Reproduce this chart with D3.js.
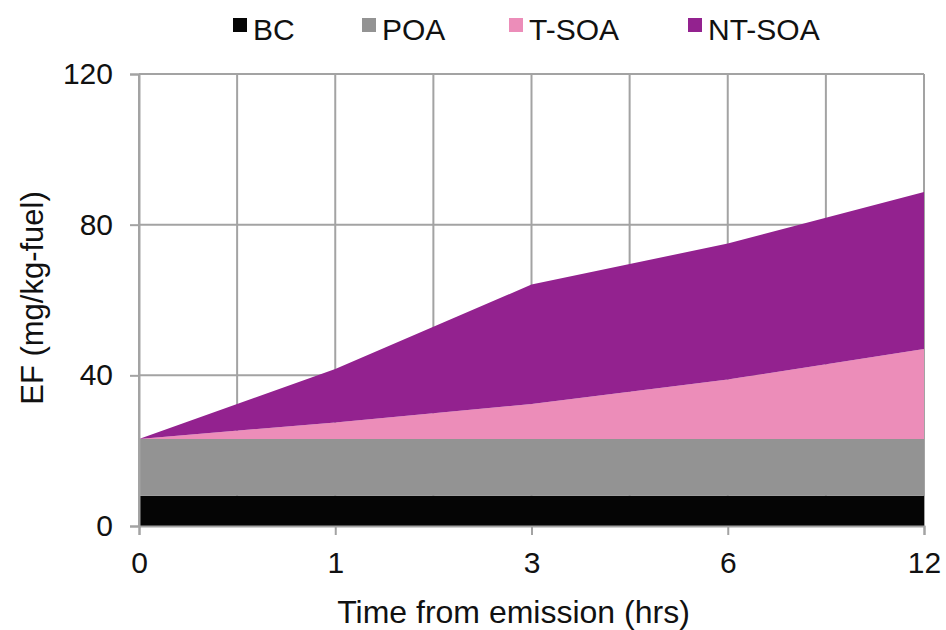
<!DOCTYPE html>
<html>
<head>
<meta charset="utf-8">
<script src="https://cdn.jsdelivr.net/npm/d3@7/dist/d3.min.js"></script>
<style>
  html, body { margin: 0; padding: 0; background: #ffffff; }
  svg { display: block; }
  text { font-family: "Liberation Sans", Arial, Helvetica, sans-serif; fill: #111; }
</style>
</head>
<body>
<svg id="chart" width="946" height="630"></svg>
<script>
// Emission factor components over time from emission (mg/kg-fuel)
const hours   = ["0", "1", "3", "6", "12"];
const bc      = [8, 8, 8, 8, 8];
const poa     = [15.1, 15.1, 15.1, 15.1, 15.1];
const tSoa    = [0, 4.4, 9.3, 15.8, 23.9];
const ntSoa   = [0, 14.2, 31.7, 36.1, 41.7];
const seriesNames  = ["BC", "POA", "T-SOA", "NT-SOA"];
const seriesColors = ["#050505", "#939393", "#ec8db9", "#93228f"];
const yTicks = [0, 40, 80, 120];

const svg = d3.select("#chart");
const margin = { left: 139, right: 22, top: 74, bottom: 104 };
const W = 946, H = 630;
const x0 = margin.left, x1 = W - margin.right, y0 = H - margin.bottom, y1 = margin.top;

const x = d3.scaleLinear().domain([0, hours.length - 1]).range([x0, x1]);
const y = d3.scaleLinear().domain([0, 120]).range([y0, y1]);

const rows = hours.map((h, i) => ({ i, BC: bc[i], POA: poa[i], "T-SOA": tSoa[i], "NT-SOA": ntSoa[i] }));
const stacked = d3.stack().keys(seriesNames)(rows);

const gridColor = "#a3a3a3";

// gridlines
const grid = svg.append("g");
grid.selectAll("line.h").data(yTicks).join("line")
  .attr("x1", x0).attr("x2", x1)
  .attr("y1", d => y(d)).attr("y2", d => y(d))
  .attr("stroke", gridColor).attr("stroke-width", 2);
const vGrid = d3.range(0, hours.length - 0.5, 0.5);
grid.selectAll("line.v").data(vGrid).join("line")
  .attr("x1", d => x(d)).attr("x2", d => x(d))
  .attr("y1", y1).attr("y2", y0)
  .attr("stroke", gridColor).attr("stroke-width", 2);

// stacked areas
const area = d3.area()
  .x(d => x(d.data.i))
  .y0(d => y(d[0]))
  .y1(d => y(d[1]));
svg.append("g").selectAll("path").data(stacked).join("path")
  .attr("d", area)
  .attr("fill", (d, i) => seriesColors[i]);

// y axis
const yAxis = d3.axisLeft(y).tickValues(yTicks).tickSize(9).tickPadding(17);
const gy = svg.append("g").attr("transform", `translate(${x0},0)`).call(yAxis);
gy.select(".domain").attr("stroke", gridColor).attr("stroke-width", 2);
gy.selectAll(".tick line").attr("stroke", gridColor).attr("stroke-width", 2);
gy.selectAll(".tick text").style("font-size", "30px").attr("fill", "#111")
  .style("font-family", '"Liberation Sans", Arial, sans-serif');

// x axis
const xAxis = d3.axisBottom(x).tickValues(d3.range(hours.length))
  .tickFormat(i => hours[i]).tickSize(9).tickPadding(17);
const gx = svg.append("g").attr("transform", `translate(0,${y0})`).call(xAxis);
gx.select(".domain").attr("stroke", gridColor).attr("stroke-width", 2);
gx.selectAll(".tick line").attr("stroke", gridColor).attr("stroke-width", 2);
gx.selectAll(".tick text").style("font-size", "30px").attr("fill", "#111")
  .style("font-family", '"Liberation Sans", Arial, sans-serif');

// axis titles
svg.append("text")
  .attr("x", (x0 + x1) / 2 - 18).attr("y", 623)
  .attr("text-anchor", "middle")
  .style("font-size", "32px")
  .text("Time from emission (hrs)");
svg.append("text")
  .attr("transform", `translate(43,298) rotate(-90)`)
  .attr("text-anchor", "middle")
  .style("font-size", "31px")
  .text("EF (mg/kg-fuel)");

// legend
const legendX = [233, 362, 509, 688];
const legend = svg.append("g");
seriesNames.forEach((name, i) => {
  legend.append("rect")
    .attr("x", legendX[i]).attr("y", 18)
    .attr("width", 14).attr("height", 14)
    .attr("fill", seriesColors[i]);
  legend.append("text")
    .attr("x", legendX[i] + 20).attr("y", 40)
    .style("font-size", "30px")
    .text(name);
});
</script>
</body>
</html>
